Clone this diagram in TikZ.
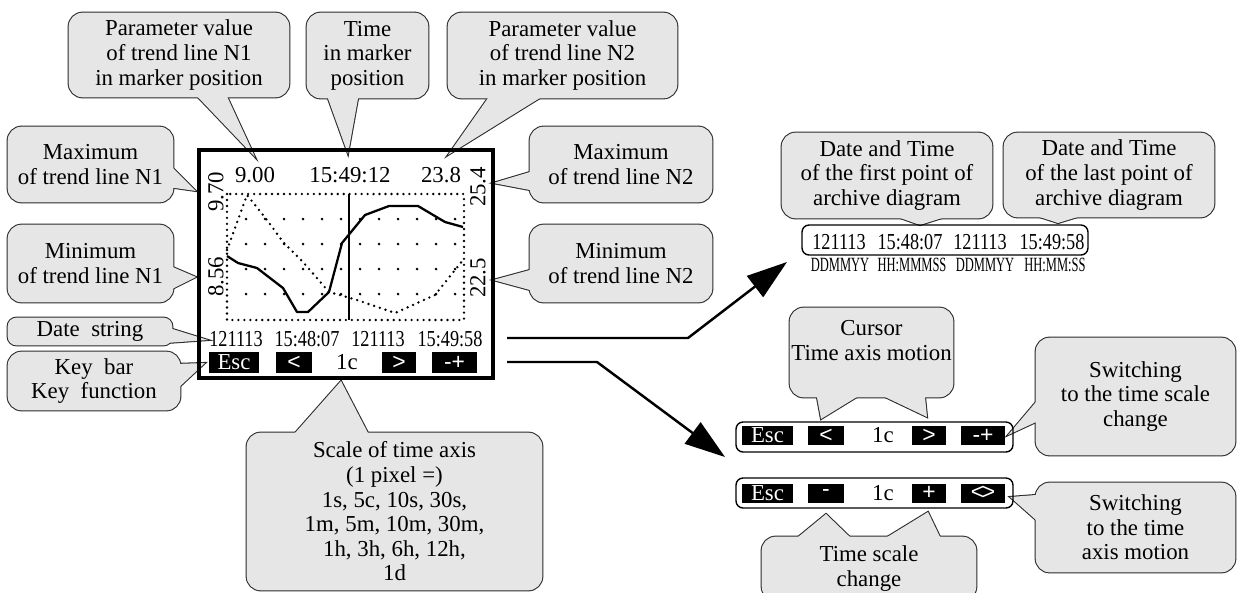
\documentclass[tikz,border=0pt]{standalone}
\usepackage{fontspec}
\setmainfont{Liberation Serif}
\newfontfamily\keyfont{Liberation Sans}
\usetikzlibrary{arrows.meta, calc}
\definecolor{bubbleGray}{HTML}{E6E6E6}
\definecolor{bubbleEdge}{HTML}{2B2B2B}
\pgfdeclarelayer{bubbleline}
\pgfdeclarelayer{bubblefill}
\pgfsetlayers{bubbleline,bubblefill,main}
\newcommand{\bubblefont}{\fontsize{13}{14}\selectfont}
\newcommand{\narrow}[1]{\scalebox{0.8}[1]{#1}}
\newcommand{\condensed}[1]{\scalebox{0.62}[1]{#1}}
% callout body: thick outline below, fill above it
\newcommand{\bubblebox}[2][8pt]{%
  \begin{pgfonlayer}{bubbleline}
    \draw[bubbleedge, rounded corners=#1] (#2.south west) rectangle (#2.north east);
  \end{pgfonlayer}
  \begin{pgfonlayer}{bubblefill}
    \fill[bubblefill, rounded corners=#1] (#2.south west) rectangle (#2.north east);
  \end{pgfonlayer}}
% callout pointer: base corners #1, #2 and tip #3
\newcommand{\bubbletip}[3]{%
  \begin{pgfonlayer}{bubbleline}
    \draw[bubbleedge, line join=miter] (#1) -- (#3) -- (#2) -- cycle;
  \end{pgfonlayer}
  \begin{pgfonlayer}{bubblefill}
    \fill[bubblefill] (#1) -- (#3) -- (#2) -- cycle;
  \end{pgfonlayer}}

\begin{document}
\begin{tikzpicture}[
  x=0.02cm, y=-0.02cm,
  bubble/.style={align=center, font=\bubblefont, inner sep=0pt},
  bubbleedge/.style={draw=bubbleEdge, line width=1.2pt},
  bubblefill/.style={fill=bubbleGray},
  screen/.style={draw, line width=2.2pt},
  scrtext/.style={font=\bubblefont, inner sep=0pt},
  keybox/.style={fill=black, text=white, font=\bubblefont, inner sep=0pt, minimum height=0.42cm},
  panelkey/.style={keybox, minimum height=0.38cm},
  panel/.style={draw, line width=0.8pt, rounded corners=4pt},
  dotline/.style={line width=1.5pt, line cap=round, dash pattern=on 0pt off 3.4pt},
  bigarrow/.style={-{Triangle[length=23pt,width=15pt]}, line width=1.4pt}
]
\useasboundingbox (0,0) rectangle (1260,592);

% display
\node[screen, minimum width=5.88cm, minimum height=4.56cm] (disp) at (346,264) {};
\draw[dotline] (227,194) rectangle (464,320);
\foreach \gx in {246,265,...,455}
  \foreach \gy in {219,244,269,294}
    \fill (\gx,\gy) circle (0.85pt);
\draw[line width=0.9pt] (349,194) -- (349,320);
\draw[line width=1.3pt, line join=round] (227,256) -- (238,263) -- (257,268) -- (283,288)
  -- (297,312) -- (308,312) -- (329,292) -- (342,243) -- (365,215) -- (389,206)
  -- (418,206) -- (445,222) -- (463,227);
\draw[dotline] (227,250) -- (247,195) -- (267,220) -- (283,242) -- (303,262) -- (329,292)
  -- (357,300) -- (395,313) -- (435,295) -- (463,260);

\node[scrtext] (val1) at (255,175) {9.00};
\node[scrtext] (tval) at (350,175) {15:49:12};
\node[scrtext] (val2) at (441,175) {23.8};
\node[scrtext, rotate=90] (max1) at (216,192) {9.70};
\node[scrtext, rotate=90] (min1) at (216,277) {8.56};
\node[scrtext, rotate=90] (max2) at (478,187) {25.4};
\node[scrtext, rotate=90] (min2) at (478,278) {22.5};

\node[scrtext] (sd1) at (236,339.5) {\narrow{121113}};
\node[scrtext] (st1) at (307,339.5) {\narrow{15:48:07}};
\node[scrtext] (sd2) at (378,339.5) {\narrow{121113}};
\node[scrtext] (st2) at (450,339.5) {\narrow{15:49:58}};

\node[keybox, minimum width=1cm] (kEsc) at (234,362.5) {Esc};
\node[keybox, minimum width=0.72cm] (kLeft) at (294,362.5) {\keyfont <};
\node[scrtext] (kScale) at (347,362.5) {1c};
\node[keybox, minimum width=0.68cm] (kRight) at (399,362.5) {\keyfont >};
\node[keybox, minimum width=0.9cm] (kMode) at (454.5,362.5) {\keyfont -+};

% callouts round the display
\node[bubble, minimum width=4.4cm, minimum height=1.68cm] (cPar1) at (179,55)
  {Parameter value\\of trend line N1\\in marker position};
\node[bubble, minimum width=2.42cm, minimum height=1.7cm] (cTime) at (367.5,55.5)
  {Time\\in marker\\position};
\node[bubble, minimum width=4.58cm, minimum height=1.7cm] (cPar2) at (562.5,55.5)
  {Parameter value\\of trend line N2\\in marker position};
\node[bubble, minimum width=3.3cm, minimum height=1.5cm] (cMax1) at (90.5,164.5)
  {Maximum\\of trend line N1};
\node[bubble, minimum width=3.3cm, minimum height=1.54cm] (cMin1) at (90.5,263.5)
  {Minimum\\of trend line N1};
\node[bubble, minimum width=3.28cm, minimum height=0.54cm] (cDate) at (90,331.5)
  {Date\ \ string};
\node[bubble, minimum width=3.44cm, minimum height=1.16cm] (cKey) at (94,381)
  {Key\ \ bar\\Key\ \ function};
\node[bubble, minimum width=5.9cm, minimum height=3.14cm] (cScale) at (394.5,511.5)
  {Scale of time axis\\(1 pixel =)\\1s, 5c, 10s, 30s,\\1m, 5m, 10m, 30m,\\1h, 3h, 6h, 12h,\\1d};
\node[bubble, minimum width=3.64cm, minimum height=1.5cm] (cMax2) at (621,164.5)
  {Maximum\\of trend line N2};
\node[bubble, minimum width=3.64cm, minimum height=1.54cm] (cMin2) at (621,263.5)
  {Minimum\\of trend line N2};

\foreach \b in {cPar1,cTime,cPar2,cMax1,cMin1,cKey,cScale,cMax2,cMin2}
  \bubblebox{\b};
\bubblebox[5pt]{cDate}
\bubbletip{193,92}{225,92}{255,157}
\bubbletip{326,93}{359,93}{348,154}
\bubbletip{491.5,93}{548,93}{448,155}
\bubbletip{168,163}{168,187}{196,191}
\bubbletip{168,265}{168,291}{196,277}
\bubbletip{166,327}{166,343}{208,340}
\bubbletip{175,364}{175,391}{205,363}
\bubbletip{290.6,438}{370.6,438}{341,381}
\bubbletip{535,170.5}{535,191}{493,183}
\bubbletip{535,268.6}{535,291.4}{493,280}

% archive date string
\node[panel, minimum width=5.72cm, minimum height=0.6cm] (dbox) at (945,240) {};
\node[scrtext] (ad1) at (839,242) {\narrow{121113}};
\node[scrtext] (at1) at (910,242) {\narrow{15:48:07}};
\node[scrtext] (ad2) at (980,242) {\narrow{121113}};
\node[scrtext] (at2) at (1052,242) {\narrow{15:49:58}};
\node[scrtext, font=\fontsize{11.5}{12}\selectfont] (af1) at (840,265) {\condensed{DDMMYY}};
\node[scrtext, font=\fontsize{11.5}{12}\selectfont] (af2) at (912,265) {\condensed{HH:MMMSS}};
\node[scrtext, font=\fontsize{11.5}{12}\selectfont] (af3) at (985,265) {\condensed{DDMMYY}};
\node[scrtext, font=\fontsize{11.5}{12}\selectfont] (af4) at (1055,265) {\condensed{HH:MM:SS}};

\node[bubble, minimum width=4.2cm, minimum height=1.7cm] (cFirst) at (887,175.5)
  {Date and Time\\of the first point of\\archive diagram};
\node[bubble, minimum width=4.2cm, minimum height=1.68cm] (cLast) at (1109,175)
  {Date and Time\\of the last point of\\archive diagram};

% key bars
\node[panel, minimum width=5.54cm, minimum height=0.6cm] (pan1) at (874.5,437) {};
\node[panelkey, minimum width=1.02cm] (p1Esc) at (767.5,435.5) {Esc};
\node[panelkey, minimum width=0.72cm] (p1Left) at (826,435.5) {\keyfont <};
\node[scrtext] (p1Scale) at (883,435.5) {1c};
\node[panelkey, minimum width=0.68cm] (p1Right) at (929,435.5) {\keyfont >};
\node[panelkey, minimum width=0.88cm] (p1Mode) at (983,435.5) {\keyfont -+};

\node[panel, minimum width=5.54cm, minimum height=0.6cm] (pan2) at (874.5,493) {};
\node[panelkey, minimum width=1.02cm] (p2Esc) at (767.5,493) {Esc};
\node[panelkey, minimum width=0.72cm] (p2Minus) at (826,493) {\keyfont -};
\node[scrtext] (p2Scale) at (883,493) {1c};
\node[panelkey, minimum width=0.68cm] (p2Plus) at (929,493) {\keyfont +};
\node[panelkey, minimum width=0.88cm] (p2Mode) at (983,493) {\keyfont <\kern-0.1em>};

\node[bubble, minimum width=3.26cm, minimum height=1.78cm] (cCursor) at (871.5,352.5)
  {Cursor\\Time axis motion\\\mbox{}};
\node[bubble, minimum width=3.98cm, minimum height=2.34cm] (cSwScale) at (1135.5,396.5)
  {Switching\\to the time scale\\change};
\node[bubble, minimum width=3.98cm, minimum height=1.78cm] (cSwAxis) at (1135.5,527.5)
  {Switching\\to the time\\axis motion};
\node[bubble, minimum width=4.28cm, minimum height=1.26cm] (cTscale) at (869,568.5)
  {Time scale\\change};

\foreach \b in {cFirst,cLast,cCursor,cSwScale,cSwAxis,cTscale}
  \bubblebox{\b};
\bubbletip{886,213}{957.7,213}{920,225}
\bubbletip{1024,212}{1094,212}{1058,223}
\bubbletip{816,392}{865,392}{821,419}
\bubbletip{874.5,392}{924.5,392}{927,417}
\bubbletip{1041,396}{1041,419.7}{1008,435}
\bubbletip{1041,494.6}{1041,524.4}{1010,497}
\bubbletip{792,542}{855,542}{826,514}
\bubbletip{879,542}{942.4,542}{928,512}

% arrows to the enlarged views
\coordinate (a1s) at (507,338);
\coordinate (a1e) at (787,262);
\coordinate (a2s) at (507,362);
\coordinate (a2e) at (725,457);
\draw[bigarrow] (a1s) -- ++(181,0) -- (a1e);
\draw[bigarrow] (a2s) -- ++(90,0) -- (a2e);
\end{tikzpicture}
\end{document}
